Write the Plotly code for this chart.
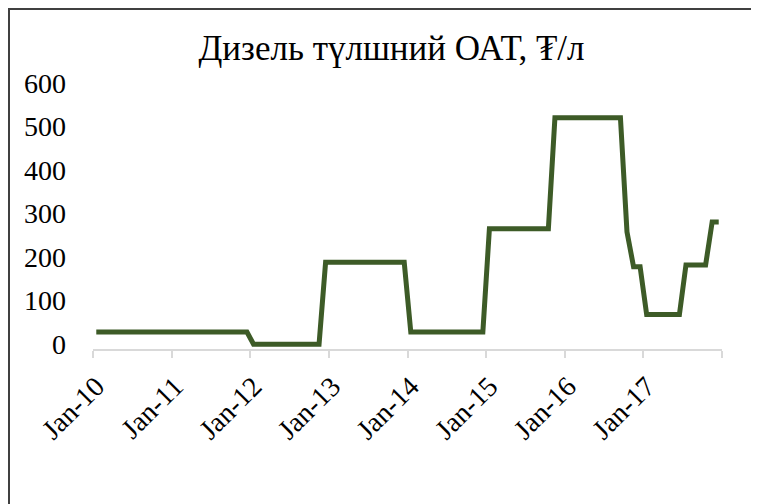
import plotly.graph_objects as go

title_text = "Дизель түлшний ОАТ, ₮/л"

years = ["10", "11", "12", "13", "14", "15", "16", "17"]
month_names = ["Jan", "Feb", "Mar", "Apr", "May", "Jun", "Jul", "Aug", "Sep", "Oct", "Nov", "Dec"]
categories = [f"{m}-{y}" for y in years for m in month_names]

# Monthly diesel price, Jan-10 .. Dec-17
values = (
    [28] * 24            # Jan-10 .. Dec-11
    + [0] * 11           # Jan-12 .. Nov-12
    + [188] * 13         # Dec-12 .. Dec-13
    + [28] * 12          # Jan-14 .. Dec-14
    + [265] * 10         # Jan-15 .. Oct-15
    + [520] * 11         # Nov-15 .. Sep-16
    + [258]              # Oct-16
    + [178, 178]         # Nov-16 .. Dec-16
    + [68] * 6           # Jan-17 .. Jun-17
    + [182] * 4          # Jul-17 .. Oct-17
    + [281, 281]         # Nov-17 .. Dec-17
)

tick_labels = [f"Jan-{y}" for y in years]
y_ticks = [0, 100, 200, 300, 400, 500, 600]

idx = list(range(len(categories)))
major_ticks = [i for i, c in enumerate(categories) if c.startswith("Jan")]
boundaries = [i - 0.5 for i in major_ticks] + [len(categories) - 0.5]

W, H = 751, 496
L, R, T, B = 85, 37, 75, 155
PW, PH = W - L - R, H - T - B

fig = go.Figure()
fig.add_trace(go.Scatter(
    x=idx, y=values, mode="lines",
    line=dict(color="#3D5B27", width=5),
    text=categories, hovertemplate="%{text}: %{y}<extra></extra>",
))

font_family = "Liberation Serif, Times New Roman, serif"

fig.update_layout(
    width=W, height=H,
    margin=dict(l=L, r=R, t=T, b=B),
    paper_bgcolor="white", plot_bgcolor="white",
    showlegend=False,
    font=dict(family=font_family, size=28, color="black"),
    title=dict(text=title_text, x=383.5 / W, xanchor="center", y=1 - 40 / H, yanchor="middle",
               font=dict(family=font_family, size=35, color="black")),
    xaxis=dict(
        range=[-0.5, len(categories) - 0.5],
        tickmode="array", tickvals=major_ticks, ticktext=tick_labels,
        tickangle=-45, ticks="", showgrid=False, zeroline=False,
        showline=True, linecolor="#D9D9D9", linewidth=1.5,
        ticklabelstandoff=8,
        minor=dict(tickmode="array", tickvals=boundaries, ticks="outside",
                   ticklen=7, tickcolor="#D9D9D9", tickwidth=1.5, showgrid=False),
        tickfont=dict(family=font_family, size=28, color="black"),
        fixedrange=True,
    ),
    yaxis=dict(
        range=[-11, 600],
        tickmode="array", tickvals=y_ticks,
        showgrid=False, zeroline=False, showline=False, ticks="",
        ticklabelstandoff=26,
        tickfont=dict(family=font_family, size=28, color="black"),
        fixedrange=True,
    ),
    shapes=[
        dict(type="line", xref="paper", yref="paper", x0=(1 - L) / PW, x1=(1 - L) / PW,
             y0=-2, y1=2, line=dict(color="#404040", width=2)),
        dict(type="line", xref="paper", yref="paper", x0=-1, x1=2,
             y0=1 + (T - 1) / PH, y1=1 + (T - 1) / PH, line=dict(color="#404040", width=2)),
    ],
)

fig.write_html("out.html")
